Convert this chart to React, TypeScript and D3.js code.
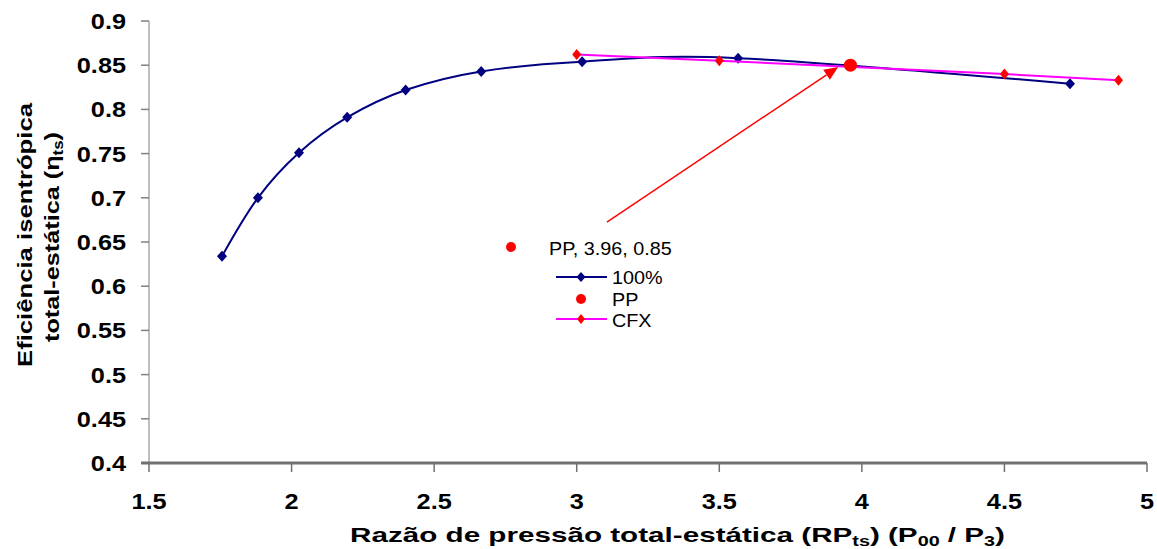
import React from "react";
import * as d3 from "d3";

const xTicks = [1.5, 2, 2.5, 3, 3.5, 4, 4.5, 5];
const yTicks = [0.4, 0.45, 0.5, 0.55, 0.6, 0.65, 0.7, 0.75, 0.8, 0.85, 0.9];
const yTickLabels = ["0.4", "0.45", "0.5", "0.55", "0.6", "0.65", "0.7", "0.75", "0.8", "0.85", "0.9"];
const xTickLabels = ["1.5", "2", "2.5", "3", "3.5", "4", "4.5", "5"];

const series100X = [1.756, 1.882, 2.026, 2.195, 2.4, 2.665, 3.019, 3.566, 4.73];
const series100Y = [0.634, 0.7, 0.751, 0.791, 0.822, 0.843, 0.854, 0.858, 0.829];

const cfxX = [3.0, 3.5, 4.5, 4.9];
const cfxY = [0.862, 0.855, 0.84, 0.833];

const ppX = [3.96];
const ppY = [0.85];
const ppLabel = "PP, 3.96, 0.85";

const arrowFrom = [3.106, 0.6726];
const arrowTo = [3.917, 0.848];

const legendItems = ["100%", "PP", "CFX"];

const FONT = "'Liberation Sans', Arial, sans-serif";
const NAVY = "#000080";
const MAG = "#FF00FF";
const RED = "#FF0000";

function diamond(cx: number, cy: number, hw: number, hh: number) {
  return `M${cx},${cy - hh}L${cx + hw},${cy}L${cx},${cy + hh}L${cx - hw},${cy}Z`;
}

export default function App() {
  const x = d3.scaleLinear().domain([1.5, 5]).range([149, 1147]);
  const y = d3.scaleLinear().domain([0.4, 0.9]).range([463, 21]);

  const p100 = series100X.map((v, i) => [x(v), y(series100Y[i])] as [number, number]);
  const pCfx = cfxX.map((v, i) => [x(v), y(cfxY[i])] as [number, number]);
  const smooth = d3.line().curve(d3.curveCardinal.tension(0));
  const straight = d3.line();

  const ax0 = x(arrowFrom[0]), ay0 = y(arrowFrom[1]);
  const ax1 = x(arrowTo[0]), ay1 = y(arrowTo[1]);
  const ang = Math.atan2(ay1 - ay0, ax1 - ax0);
  const hl = 14, hw = 6;
  const bx = ax1 - hl * Math.cos(ang), by = ay1 - hl * Math.sin(ang);
  const head = `M${ax1},${ay1}L${bx + hw * Math.sin(ang)},${by - hw * Math.cos(ang)}L${bx - hw * Math.sin(ang)},${by + hw * Math.cos(ang)}Z`;

  const sx = 1.15;

  return (
    <svg width={1157} height={549} style={{ position: "absolute", left: 0, top: 0, background: "#fff" }}>
      <rect x={0} y={0} width={1157} height={549} fill="#fff" />
      {/* Y axis */}
      <line x1={149} x2={149} y1={y(0.9)} y2={y(0.4)} stroke="#808080" strokeWidth={1} />
      {yTicks.map((t, i) => (
        <g key={"yt" + i}>
          <line x1={141} x2={149} y1={y(t)} y2={y(t)} stroke="#808080" strokeWidth={1.5} />
          <text transform={`translate(126,${y(t) + 8}) scale(${sx},1)`} textAnchor="end" fontFamily={FONT} fontWeight="bold" fontSize={22} fill="#000">{yTickLabels[i]}</text>
        </g>
      ))}
      {/* X axis */}
      <line x1={x(1.5) - 8} x2={x(5)} y1={463} y2={463} stroke="#707070" strokeWidth={3} />
      {xTicks.map((t, i) => (
        <g key={"xt" + i}>
          <line x1={x(t)} x2={x(t)} y1={463} y2={472} stroke="#707070" strokeWidth={1.5} />
          <text transform={`translate(${x(t)},509) scale(${sx},1)`} textAnchor="middle" fontFamily={FONT} fontWeight="bold" fontSize={22} fill="#000">{xTickLabels[i]}</text>
        </g>
      ))}
      {/* Axis titles */}
      <text x={350} y={542} textLength={655} lengthAdjust="spacingAndGlyphs" fontFamily={FONT} fontWeight="bold" fontSize={21} fill="#000">
        Razão de pressão total-estática (RP<tspan fontSize={14} dy={4}>ts</tspan><tspan dy={-4}>) (P</tspan><tspan fontSize={14} dy={4}>00</tspan><tspan dy={-4}> / P</tspan><tspan fontSize={14} dy={4}>3</tspan><tspan dy={-4}>)</tspan>
      </text>
      <g transform="translate(32,367) rotate(-90)">
        <text x={0} y={0} textLength={264} lengthAdjust="spacingAndGlyphs" fontFamily={FONT} fontWeight="bold" fontSize={21} fill="#000">Eficiência isentrópica</text>
      </g>
      <g transform="translate(59,342) rotate(-90)">
        <text x={0} y={0} textLength={210} lengthAdjust="spacingAndGlyphs" fontFamily={FONT} fontWeight="bold" fontSize={21} fill="#000">
          total-estática (η<tspan fontSize={14} dy={4}>ts</tspan><tspan dy={-4}>)</tspan>
        </text>
      </g>

      {/* 100% series */}
      <path d={smooth(p100) || ""} fill="none" stroke={NAVY} strokeWidth={2} />
      {p100.map((p, i) => (
        <path key={"m" + i} d={diamond(p[0], p[1], 5, 5.5)} fill={NAVY} />
      ))}
      {/* CFX series */}
      <path d={straight(pCfx) || ""} fill="none" stroke={MAG} strokeWidth={2} />
      {pCfx.map((p, i) => (
        <path key={"c" + i} d={diamond(p[0], p[1], 4.5, 5.5)} fill={RED} />
      ))}
      {/* PP point */}
      {ppX.map((v, i) => (
        <circle key={"pp" + i} cx={x(v)} cy={y(ppY[i])} r={6.5} fill={RED} />
      ))}
      {/* Arrow */}
      <line x1={ax0} y1={ay0} x2={bx} y2={by} stroke={RED} strokeWidth={1.5} />
      <path d={head} fill={RED} />

      {/* data label */}
      <circle cx={511} cy={247} r={5} fill={RED} />
      <text transform={`translate(549,255) scale(1.1,1)`} fontFamily={FONT} fontSize={18} fill="#000">{ppLabel}</text>

      {/* Legend */}
      <line x1={556} x2={607} y1={277} y2={277} stroke={NAVY} strokeWidth={2} />
      <path d={diamond(581, 277, 4.5, 5)} fill={NAVY} />
      <text transform={`translate(612,284) scale(1.1,1)`} fontFamily={FONT} fontSize={18} fill="#000">{legendItems[0]}</text>
      <circle cx={581} cy={299} r={5} fill={RED} />
      <text transform={`translate(612,306) scale(1.1,1)`} fontFamily={FONT} fontSize={18} fill="#000">{legendItems[1]}</text>
      <line x1={556} x2={607} y1={319} y2={319} stroke={MAG} strokeWidth={2} />
      <path d={diamond(581, 319, 4, 5)} fill={RED} />
      <text transform={`translate(612,327) scale(1.1,1)`} fontFamily={FONT} fontSize={18} fill="#000">{legendItems[2]}</text>
    </svg>
  );
}
